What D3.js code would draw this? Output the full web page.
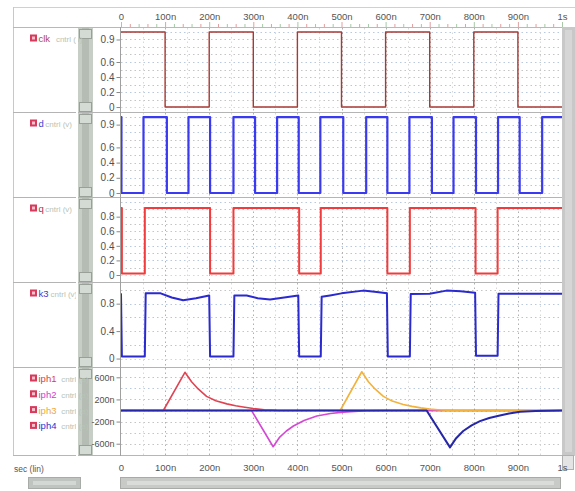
<!DOCTYPE html>
<html>
<head>
<meta charset="utf-8">
<script src="https://cdn.jsdelivr.net/npm/d3@7"></script>
<style>
  body { margin: 0; background: #fff; }
  svg { display: block; }
  text { font-family: "Liberation Sans", Arial, sans-serif; }
</style>
</head>
<body>
<svg id="chart" width="575" height="491"></svg>
<script>
// time axis (ns)
const timeTicks = [0, 100, 200, 300, 400, 500, 600, 700, 800, 900, 1000];
const timeTickLabels = ['0', '100n', '200n', '300n', '400n', '500n', '600n', '700n', '800n', '900n', '1s'];

// digital-ish signals: edge times and levels
const clkTimes = [0, 100, 200, 300, 400, 500, 600, 700, 800, 900, 1000];
const clkValues = [1, 0, 1, 0, 1, 0, 1, 0, 1, 0, 0];

const dTimes = [0, 1, 51, 104, 153, 202, 255, 304, 354, 403, 452, 504, 556, 604, 654, 705, 754, 805, 855, 904, 955, 1000];
const dValues = [1, 0, 1, 0, 1, 0, 1, 0, 1, 0, 1, 0, 1, 0, 1, 0, 1, 0, 1, 0, 1, 1];

const qTimes = [0, 2, 54, 202, 255, 404, 453, 604, 655, 804, 854, 1000];
const qValues = [0.92, 0.02, 0.92, 0.02, 0.92, 0.02, 0.92, 0.02, 0.92, 0.02, 0.92, 0.92];

const k3Times = [0, 2, 54, 56, 90, 115, 141, 170, 200, 202, 255, 257, 285, 310, 338, 370, 402, 404, 453, 455, 474, 500, 549, 580, 603, 605, 655, 657, 700, 738, 770, 803, 805, 854, 856, 1000];
const k3Values = [0.95, 0.03, 0.03, 0.95, 0.95, 0.89, 0.85, 0.88, 0.92, 0.03, 0.03, 0.92, 0.92, 0.88, 0.86, 0.89, 0.92, 0.03, 0.03, 0.9, 0.92, 0.95, 0.99, 0.97, 0.95, 0.03, 0.03, 0.94, 0.945, 0.99, 0.98, 0.96, 0.04, 0.04, 0.945, 0.945];

// photo currents (nA)
const iph1Times = [0, 96, 145, 160, 175, 194, 215, 240, 260, 277, 300, 325, 353, 1000];
const iph1Values = [0, 0, 690, 520, 390, 255, 175, 120, 85, 62, 35, 15, 3, 0];
const iph2Times = [0, 296, 345, 360, 375, 391, 415, 444, 475, 504, 530, 557, 600, 1000];
const iph2Values = [0, 0, -655, -480, -370, -280, -180, -100, -55, -30, -15, -5, 0, 0];
const iph3Times = [0, 497, 546, 561, 576, 595, 615, 640, 660, 680, 700, 725, 750, 780, 1000];
const iph3Values = [0, 0, 700, 520, 390, 255, 170, 110, 75, 48, 25, 10, 3, 0, 0];
const iph4Times = [0, 693, 746, 760, 776, 795, 814, 835, 859, 880, 905, 940, 970, 1000];
const iph4Values = [0, 0, -666, -500, -370, -270, -191, -135, -89, -55, -23, -10, -4, 0];

const vTicks = [0, 0.2, 0.4, 0.6, 0.9];
const vTickLabels = ['0', '0.2', '0.4', '0.6', '0.9'];
const qTicks = [0, 0.2, 0.4, 0.6, 0.8];
const qTickLabels = ['0', '0.2', '0.4', '0.6', '0.8'];
const k3Ticks = [0, 0.4, 0.8];
const k3TickLabels = ['0', '0.4', '0.8'];
const iTicks = [-600, -200, 200, 600];
const iTickLabels = ['-600n', '-200n', '200n', '600n'];

const toPoints = (ts, vs) => ts.map((t, i) => [t, vs[i]]);

const panels = [
  { top: 28, bottom: 112, domain: [-0.066, 1.053], ticks: vTicks, labels: vTickLabels, grid: 0.1, fs: 10,
    traces: [{ name: 'clk', unit: 'cntrl (v)', color: '#a83a34', label: '#b04848', width: 1.4, step: true, pts: toPoints(clkTimes, clkValues) }] },
  { top: 113, bottom: 197, domain: [-0.053, 1.053], ticks: vTicks, labels: vTickLabels, grid: 0.1, fs: 10,
    traces: [{ name: 'd', unit: 'cntrl (v)', color: '#3a3af0', label: '#4040d0', width: 2.2, step: true, pts: toPoints(dTimes, dValues) }] },
  { top: 198, bottom: 282, domain: [-0.096, 1.056], ticks: qTicks, labels: qTickLabels, grid: 0.1, fs: 10,
    traces: [{ name: 'q', unit: 'cntrl (v)', color: '#f03c3c', label: '#b03050', width: 2, step: true, pts: toPoints(qTimes, qValues) }] },
  { top: 283, bottom: 367, domain: [-0.123, 1.101], ticks: k3Ticks, labels: k3TickLabels, grid: 0.2, fs: 10,
    traces: [{ name: 'k3', unit: 'cntrl (v)', color: '#2a2ad0', label: '#3a3ad0', width: 2, step: false, pts: toPoints(k3Times, k3Values) }] },
  { top: 368, bottom: 455, domain: [-804, 768], ticks: iTicks, labels: iTickLabels, grid: 200, fs: 9,
    traces: [
      { name: 'iph1', unit: 'cntrl (a)', color: '#e04452', label: '#e03a4a', width: 1.6, step: false, pts: toPoints(iph1Times, iph1Values) },
      { name: 'iph2', unit: 'cntrl (a)', color: '#d448d4', label: '#d040d0', width: 1.6, step: false, pts: toPoints(iph2Times, iph2Values) },
      { name: 'iph3', unit: 'cntrl (a)', color: '#f2b23c', label: '#f0a838', width: 1.6, step: false, pts: toPoints(iph3Times, iph3Values) },
      { name: 'iph4', unit: 'cntrl (a)', color: '#2626a8', label: '#3030d0', width: 2, step: false, pts: toPoints(iph4Times, iph4Values) }
    ] }
];

const svg = d3.select('#chart');
const plotL = 121, plotR = 562;
const x = d3.scaleLinear().domain([0, 1000]).range([plotL, plotR]);

// frame
svg.append('line').attr('x1', 13).attr('x2', 575).attr('y1', 7.5).attr('y2', 7.5).attr('stroke', '#d0d0d0');
svg.append('line').attr('x1', 13.5).attr('x2', 13.5).attr('y1', 7).attr('y2', 456).attr('stroke', '#c8c8c8');

// left scroll column (drawn first so tick labels sit on top)
const col = svg.append('g');
col.append('rect').attr('x', 78).attr('y', 28).attr('width', 15).attr('height', 428).attr('fill', '#c6cec6');
col.append('rect').attr('x', 82).attr('y', 28).attr('width', 7).attr('height', 428).attr('fill', '#b4bcb4');
panels.forEach(p => {
  [p.top + 1, p.bottom - 10].forEach(yy => {
    col.append('rect').attr('x', 79.5).attr('y', yy + 0.5).attr('width', 12).attr('height', 9)
      .attr('fill', '#d4dad4').attr('stroke', '#98a098');
  });
});

// top time axis
const topAxis = svg.append('g').attr('transform', 'translate(0,27)')
  .call(d3.axisTop(x).tickValues(timeTicks).tickSize(0).tickPadding(7)
    .tickFormat((d, i) => timeTickLabels[i]));
topAxis.select('.domain').remove();
topAxis.selectAll('text').attr('font-size', 9.5).attr('fill', '#555').attr('font-family', '"Liberation Sans", Arial, sans-serif');
svg.append('g').selectAll('line').data(d3.range(0, 1001, 20)).join('line')
  .attr('x1', d => x(d) + 0.5).attr('x2', d => x(d) + 0.5)
  .attr('y1', d => d % 100 === 0 ? 22 : 24).attr('y2', 27)
  .attr('stroke', (d, i) => i % 2 ? '#e0a0a0' : '#a8c8a8');
svg.append('line').attr('x1', 13).attr('x2', plotR).attr('y1', 27.5).attr('y2', 27.5).attr('stroke', '#a8c4a8');

panels.forEach(p => {
  const y = d3.scaleLinear().domain(p.domain).range([p.bottom, p.top]);
  const g = svg.append('g');

  // horizontal grid
  const gl = Math.ceil(p.domain[0] / p.grid), gh = Math.floor(p.domain[1] / p.grid);
  g.append('g').selectAll('line').data(d3.range(gl, gh + 1).map(k => k * p.grid)).join('line')
    .attr('x1', plotL).attr('x2', plotR)
    .attr('y1', d => Math.round(y(d)) + 0.5).attr('y2', d => Math.round(y(d)) + 0.5)
    .attr('stroke', (d, i) => Math.abs(d) < 1e-9 ? '#e4dc88' : (i % 2 ? '#c4c4c4' : '#b8c8e0'))
    .attr('stroke-dasharray', '1.5,3');

  // vertical grid
  g.append('g').selectAll('line').data(d3.range(50, 1000, 50)).join('line')
    .attr('x1', d => Math.round(x(d)) + 0.5).attr('x2', d => Math.round(x(d)) + 0.5)
    .attr('y1', p.top).attr('y2', p.bottom)
    .attr('stroke', d => d % 100 === 0 ? '#b0b0b0' : '#d8d8d8')
    .attr('stroke-dasharray', '1.5,3');

  // separator
  g.append('line').attr('x1', 13).attr('x2', plotR).attr('y1', p.bottom + 0.5).attr('y2', p.bottom + 0.5)
    .attr('stroke', p === panels[panels.length - 1] ? '#9cc89c' : '#b4b4b4');

  // y axis
  const ax = g.append('g').attr('transform', `translate(${plotL - 0.5},0)`)
    .call(d3.axisLeft(y).tickValues(p.ticks).tickSize(4).tickPadding(2).tickFormat((d, i) => p.labels[i]));
  ax.select('.domain').remove();
  ax.selectAll('line').attr('stroke', '#888');
  ax.selectAll('text').attr('font-size', p.fs).attr('fill', '#505050').attr('font-family', '"Liberation Sans", Arial, sans-serif');

  // traces
  const clipId = 'clip' + p.top;
  svg.append('clipPath').attr('id', clipId).append('rect')
    .attr('x', plotL - 2).attr('y', p.top + 1).attr('width', plotR - plotL + 2).attr('height', p.bottom - p.top - 1);
  p.traces.forEach((t, i) => {
    const line = d3.line().x(d => x(d[0])).y(d => y(d[1]))
      .curve(t.step ? d3.curveStepAfter : d3.curveLinear);
    g.append('path').datum(t.pts).attr('d', line).attr('clip-path', `url(#${clipId})`)
      .attr('fill', 'none').attr('stroke', t.color).attr('stroke-width', t.width)
      .attr('stroke-linejoin', 'round');

    // legend entry
    const ly = p.top + 11 + i * 15.8;
    const lg = svg.append('g').attr('transform', `translate(30,${ly})`);
    lg.append('rect').attr('x', 0).attr('y', -4.5).attr('width', 7).attr('height', 7).attr('fill', '#d83a5c');
    lg.append('rect').attr('x', 2).attr('y', -2.5).attr('width', 3).attr('height', 3).attr('fill', '#f4c0cc');
    lg.append('text').attr('x', 8.5).attr('y', 3).attr('font-size', 9.5).attr('fill', t.label).text(t.name);
    lg.append('text').attr('x', 10 + t.name.length * 5.3).attr('y', 3).attr('font-size', 8).attr('fill', '#b8c4b4').text(t.unit);
  });
});

// legend text is cut by the scroll column
svg.append('rect').attr('x', 76).attr('y', 28).attr('width', 2).attr('height', 428).attr('fill', '#fff');

// plot left edge
svg.append('line').attr('x1', plotL - 0.5).attr('x2', plotL - 0.5).attr('y1', 27).attr('y2', 456).attr('stroke', '#a0a0a0');

// right scroll column
svg.append('rect').attr('x', plotR).attr('y', 27).attr('width', 575 - plotR).attr('height', 429).attr('fill', '#c8c8c8');
svg.append('rect').attr('x', plotR + 3).attr('y', 30).attr('width', 7).attr('height', 422).attr('fill', '#d6d6d6');
svg.append('rect').attr('x', plotR + 0.5).attr('y', 455.5).attr('width', 11).attr('height', 14).attr('fill', '#e4e4e4').attr('stroke', '#b0b0b0');

// bottom time axis
const botAxis = svg.append('g').attr('transform', 'translate(0,459)')
  .call(d3.axisBottom(x).tickValues(timeTicks).tickSize(0).tickPadding(5)
    .tickFormat((d, i) => timeTickLabels[i]));
botAxis.select('.domain').remove();
botAxis.selectAll('text').attr('font-size', 9.5).attr('fill', '#555').attr('font-family', '"Liberation Sans", Arial, sans-serif');
svg.append('text').attr('x', 14).attr('y', 472).attr('font-size', 8.5).attr('fill', '#555').text('sec (lin)');

// bottom scrollbars
svg.append('rect').attr('x', 28.5).attr('y', 477.5).attr('width', 52).attr('height', 11).attr('fill', '#c0c4c0').attr('stroke', '#a8aca8');
svg.append('rect').attr('x', 33).attr('y', 481).attr('width', 43).attr('height', 4).attr('fill', '#d4d8d4');
svg.append('rect').attr('x', plotL - 0.5).attr('y', 477.5).attr('width', plotR - plotL - 1).attr('height', 11).attr('fill', '#c8cac8').attr('stroke', '#a8aaa8');
svg.append('rect').attr('x', plotL + 6).attr('y', 481).attr('width', plotR - plotL - 14).attr('height', 4).attr('fill', '#dadcda');
</script>
</body>
</html>
